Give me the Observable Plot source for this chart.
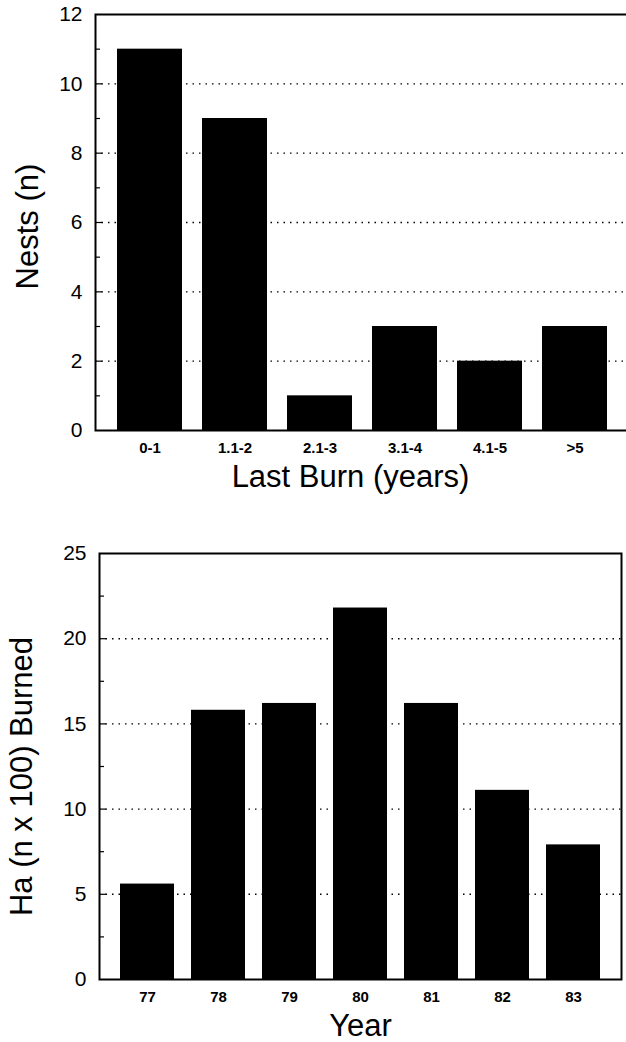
<!DOCTYPE html>
<html>
<head>
<meta charset="utf-8">
<script src="https://cdn.jsdelivr.net/npm/d3@7"></script>
<script src="https://cdn.jsdelivr.net/npm/@observablehq/plot@0.6"></script>
<style>
  html, body { margin: 0; padding: 0; background: #fff; overflow: hidden; }
  #wrap svg { display: block; }
</style>
</head>
<body>
<div id="wrap"></div>
<script>
// ---- Data: top chart ----
const burnCats = ["0-1", "1.1-2", "2.1-3", "3.1-4", "4.1-5", ">5"];
const nests = [11, 9, 1, 3, 2, 3];
const nestTickLabels = [0, 2, 4, 6, 8, 10, 12];
const nestGrid = [2, 4, 6, 8, 10];
const nestMinor = [1, 3, 5, 7, 9, 11];

// ---- Data: bottom chart ----
const years = ["77", "78", "79", "80", "81", "82", "83"];
const haBurned = [5.6, 15.8, 16.2, 21.8, 16.2, 11.1, 7.9];
const haTickLabels = [0, 5, 10, 15, 20, 25];
const haGrid = [5, 10, 15, 20];
const haMinor = [2.5, 7.5, 12.5, 17.5, 22.5];

const FONT = "'Liberation Sans', Arial, Helvetica, sans-serif";

const nestData = burnCats.map((c, i) => ({cat: c, n: nests[i]}));
const haData = years.map((y, i) => ({year: y, ha: haBurned[i]}));

function chart({data, xKey, yKey, domainX, domainY, pInner, pOuter, ticks, grid, minor,
                width, height, mt, mb, ml, mr, xTitle, yTitle, xTitleDx, xTitleDy, yTitleDx, yTitleDy}) {
  const frameW = width - ml - mr;
  return Plot.plot({
    width, height,
    marginTop: mt, marginBottom: mb, marginLeft: ml, marginRight: mr,
    style: {fontFamily: FONT, color: "black", background: "white", overflow: "hidden"},
    x: {domain: domainX, paddingInner: pInner, paddingOuter: pOuter, label: null},
    y: {domain: domainY, label: null},
    marks: [
      Plot.ruleY(grid, {y: d => d, stroke: "black", strokeWidth: 1.4, strokeDasharray: "1.5,5"}),
      Plot.ruleY(grid, {y: d => d, stroke: "black", strokeWidth: 1.2, insetRight: frameW - 7}),
      Plot.ruleY(minor, {y: d => d, stroke: "black", strokeWidth: 1.2, insetRight: frameW - 5}),
      Plot.barY(data, {x: xKey, y: yKey, fill: "black"}),
      Plot.frame({stroke: "black", strokeWidth: 2}),
      Plot.axisY({ticks, tickSize: 0, tickPadding: 13, fontSize: 21, label: null}),
      Plot.axisX({tickSize: 0, tickPadding: 12, fontSize: 15, fontWeight: "bold", label: null}),
      Plot.text([xTitle], {text: d => d, frameAnchor: "bottom", textAnchor: "middle", lineAnchor: "bottom",
        dx: xTitleDx, dy: xTitleDy, fontSize: 31, fill: "black"}),
      Plot.text([yTitle], {text: d => d, frameAnchor: "left", textAnchor: "middle", rotate: -90, lineAnchor: "middle",
        dx: yTitleDx, dy: yTitleDy, fontSize: 31, fill: "black"})
    ]
  });
}

const wrap = document.getElementById("wrap");

wrap.appendChild(chart({
  data: nestData, xKey: "cat", yKey: "n", domainX: burnCats, domainY: [0, 12],
  pInner: 0.235, pOuter: 0.25, ticks: nestTickLabels, grid: nestGrid, minor: nestMinor,
  width: 626, height: 520, mt: 14, mb: 90, ml: 95, mr: -3,
  xTitle: "Last Burn (years)", yTitle: "Nests (n)",
  xTitleDx: -12, xTitleDy: 56, yTitleDx: -67, yTitleDy: 4
}));

wrap.appendChild(chart({
  data: haData, xKey: "year", yKey: "ha", domainX: years, domainY: [0, 25],
  pInner: 0.24, pOuter: 0.26, ticks: haTickLabels, grid: haGrid, minor: haMinor,
  width: 626, height: 522, mt: 33, mb: 63, ml: 99, mr: 5,
  xTitle: "Year", yTitle: "Ha (n x 100) Burned",
  xTitleDx: 0, xTitleDy: 56, yTitleDx: -77, yTitleDy: 10
}));
</script>
</body>
</html>
